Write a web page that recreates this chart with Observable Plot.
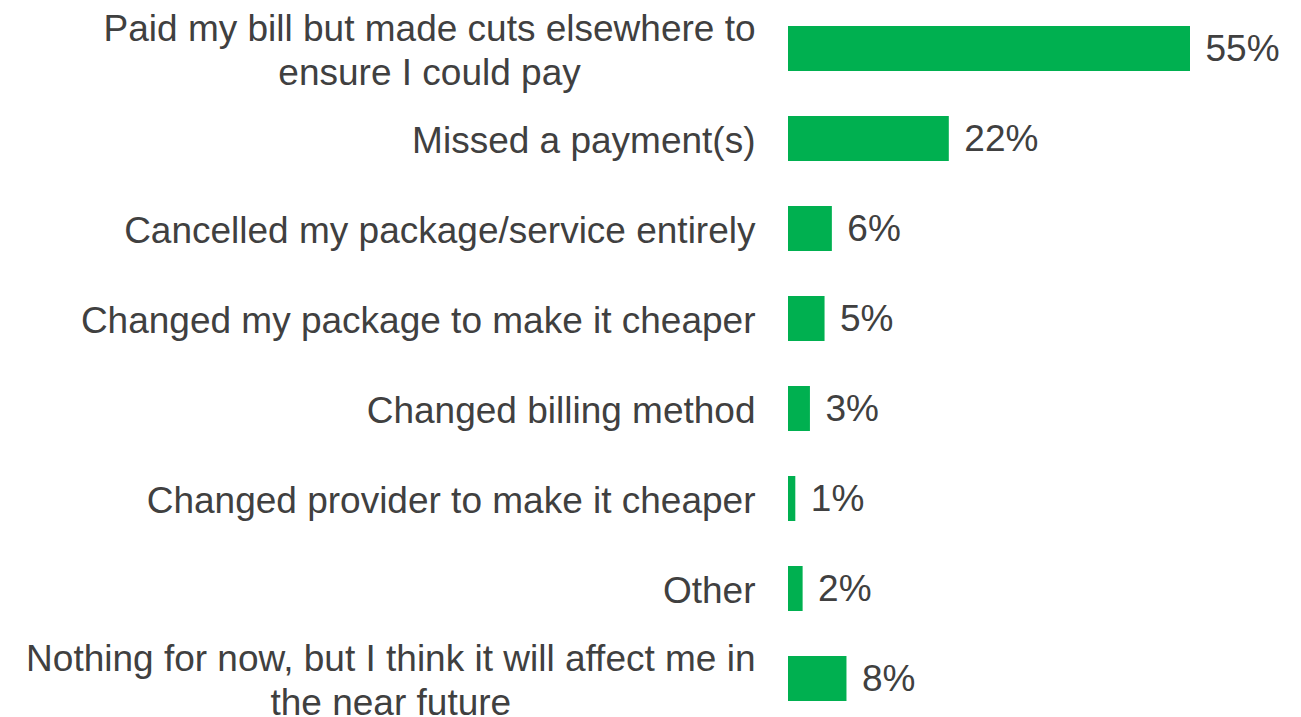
<!DOCTYPE html>
<html>
<head>
<meta charset="utf-8">
<script src="https://cdn.jsdelivr.net/npm/d3@7"></script>
<script src="https://cdn.jsdelivr.net/npm/@observablehq/plot@0.6"></script>
<style>
  html, body { margin: 0; padding: 0; background: #ffffff; }
</style>
</head>
<body>
<div id="chart"></div>
<script>
const categories = [
  "Paid my bill but made cuts elsewhere to\nensure I could pay",
  "Missed a payment(s)",
  "Cancelled my package/service entirely",
  "Changed my package to make it cheaper",
  "Changed billing method",
  "Changed provider to make it cheaper",
  "Other",
  "Nothing for now, but I think it will affect me in\nthe near future"
];
const values = [55, 22, 6, 5, 3, 1, 2, 8];

const data = categories.map((c, i) => ({category: c, value: values[i]}));

const FONT = "Arial, Helvetica, sans-serif";

const chart = Plot.plot({
  width: 1301,
  height: 717,
  marginLeft: 788,
  marginRight: 111,
  marginTop: 24,
  marginBottom: 14,
  style: {fontFamily: FONT, background: "#ffffff"},
  x: {domain: [0, 55], axis: null},
  y: {domain: categories, paddingInner: 0.5, paddingOuter: 0, align: 0.5, axis: null},
  marks: [
    Plot.barX(data, {x: "value", y: "category", fill: "#00B050"}),
    Plot.text(data, {
      x: "value", y: "category",
      text: d => d.value + "%",
      textAnchor: "start", dx: 15,
      fontSize: 37, fontFamily: FONT, fill: "#404040"
    }),
    Plot.text(data, {
      y: "category", frameAnchor: "left",
      text: "category",
      textAnchor: "end", dx: -33,
      lineAnchor: "middle", lineHeight: 1.2,
      fontSize: 37, fontFamily: FONT, fill: "#404040"
    })
  ]
});

document.getElementById("chart").append(chart);

// center multi-line labels within their right-aligned block
chart.querySelectorAll("text").forEach(t => {
  const spans = t.querySelectorAll("tspan");
  if (spans.length < 2) return;
  const w = Math.max(...Array.from(spans).map(s => s.getComputedTextLength()));
  t.setAttribute("text-anchor", "middle");
  spans.forEach(s => s.setAttribute("x", -w / 2));
});
</script>
</body>
</html>
